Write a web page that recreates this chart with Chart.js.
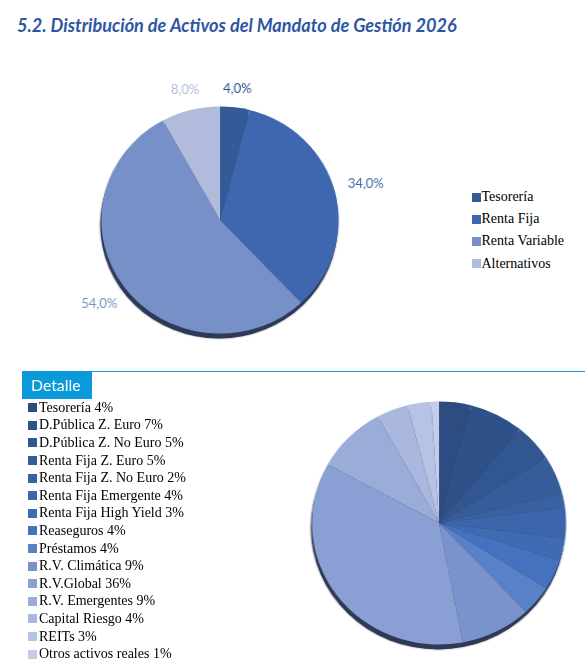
<!DOCTYPE html>
<html><head><meta charset="utf-8">
<script src="https://cdn.jsdelivr.net/npm/chart.js@4/dist/chart.umd.min.js"></script>
<style>
html,body{margin:0;padding:0;background:#fff;width:585px;height:663px;overflow:hidden;position:relative;}
#title{position:absolute;left:17px;top:15.4px;font:italic bold 18.1px Lato;color:#2F56A3;white-space:nowrap;line-height:1.2;}
.wrap{position:absolute;}
.legend{position:absolute;font-family:"Liberation Serif","Times New Roman",serif;font-size:14px;color:#000;}
.legend .row{display:flex;align-items:center;white-space:nowrap;}
.legend .box{width:9px;height:9px;flex:none;}
#mainLegend{left:471.5px;top:185.9px;}
#mainLegend .row{height:22.3px;line-height:22.3px;}
#mainLegend .box{margin-right:1px;}
#detailLegend{left:28px;top:398.9px;}
#detailLegend .row{height:17.6px;line-height:17.6px;}
#detailLegend .box{margin-right:2px;}
#rule{position:absolute;left:92px;top:371px;width:493px;height:1px;background:#1E8FD0;}
#detalle{position:absolute;left:22px;top:371px;width:70px;height:28px;background:#0A9ADA;}
#detalle span{position:absolute;left:9px;top:5px;font:15.8px Lato;color:#fff;line-height:1.2;}
</style></head><body>
<div id="title">5.2. Distribución de Activos del Mandato de Gestión 2026</div>
<div class="wrap" id="mainWrap"><canvas id="mainPie" width="340" height="340"></canvas></div>
<div class="legend" id="mainLegend"></div>
<div id="rule"></div>
<div id="detalle"><span>Detalle</span></div>
<div class="legend" id="detailLegend"></div>
<div class="wrap" id="detailWrap"><canvas id="detailPie" width="264" height="264"></canvas></div>
<script>
// ---- data ----
const mainCategories = ['Tesorería', 'Renta Fija', 'Renta Variable', 'Alternativos'];
const mainValues = [4, 34, 54, 8];
const mainColors = ['#345A97', '#3E67AF', '#7890C8', '#B1BBDC'];
const mainLabelColors = ['#2C4E8C', '#3E67AF', '#7890C8', '#B1BBDC'];

const detailCategories = ['Tesorería', 'D.Pública Z. Euro', 'D.Pública Z. No Euro', 'Renta Fija Z. Euro',
  'Renta Fija Z. No Euro', 'Renta Fija Emergente', 'Renta Fija High Yield', 'Reaseguros', 'Préstamos',
  'R.V. Climática', 'R.V.Global', 'R.V. Emergentes', 'Capital Riesgo', 'REITs', 'Otros activos reales'];
const detailValues = [4, 7, 5, 5, 2, 4, 3, 4, 4, 9, 36, 9, 4, 3, 1];
const detailColors = ['#2C4C82', '#2F5189', '#325690', '#365C99', '#3A62A3', '#3C66AB', '#3F6BB3', '#4472BE',
  '#5981C8', '#7A93CD', '#8A9FD3', '#9AACD8', '#AAB8DF', '#B7C3E4', '#C3CCE8'];

// ---- layout helpers ----
const SX = 1.045; // reference pies are slightly wider than tall
function place(wrapId, cx, cy, size) {
  const w = document.getElementById(wrapId);
  w.style.left = (cx - size / 2) + 'px';
  w.style.top = (cy - size / 2) + 'px';
  w.style.width = size + 'px';
  w.style.height = size + 'px';
  w.style.transformOrigin = (size / 2) + 'px ' + (size / 2) + 'px';
  w.style.transform = 'scaleX(' + SX + ')';
}
place('mainWrap', 219.5, 219.7, 340);
place('detailWrap', 438.7, 523.4, 264);

function buildLegend(id, cats, vals, colors, withVal) {
  const el = document.getElementById(id);
  cats.forEach((c, i) => {
    const r = document.createElement('div'); r.className = 'row';
    const b = document.createElement('div'); b.className = 'box'; b.style.background = colors[i];
    const t = document.createElement('span'); t.textContent = withVal ? (c + ' ' + vals[i] + '%') : c;
    r.appendChild(b); r.appendChild(t); el.appendChild(r);
  });
}
buildLegend('mainLegend', mainCategories, mainValues, mainColors, false);
buildLegend('detailLegend', detailCategories, detailValues, detailColors, true);

const pieShadow = {
  id: 'pieShadow',
  beforeDatasetsDraw(chart) {
    const a = chart.getDatasetMeta(0).data[0];
    if (!a) return;
    const ctx = chart.ctx;
    ctx.save();
    ctx.shadowColor = 'rgba(20,28,50,0.55)';
    ctx.shadowBlur = 2;
    ctx.fillStyle = '#2E3956';
    ctx.beginPath();
    ctx.arc(a.x - 1, a.y + 4.8, a.outerRadius, 0, Math.PI * 2);
    ctx.fill();
    ctx.restore();
  }
};

const outsideLabels = {
  id: 'outsideLabels',
  afterDatasetsDraw(chart) {
    const ctx = chart.ctx;
    const meta = chart.getDatasetMeta(0);
    const ds = chart.data.datasets[0];
    ctx.save();
    ctx.font = '12.5px Lato';
    ctx.textAlign = 'center';
    ctx.textBaseline = 'middle';
    meta.data.forEach((arc, i) => {
      const p = arc.getProps(['x', 'y', 'startAngle', 'endAngle', 'outerRadius'], true);
      const mid = (p.startAngle + p.endAngle) / 2;
      const txt = ds.data[i].toFixed(1).replace('.', ',') + '%';
      const w = ctx.measureText(txt).width, h = 9;
      const c = Math.cos(mid), s = Math.sin(mid);
      const d = p.outerRadius + 12.5 + Math.abs(c) * w / 2 + Math.abs(s) * h / 2;
      ctx.fillStyle = mainLabelColors[i];
      ctx.fillText(txt, p.x + c * d, p.y + s * d);
    });
    ctx.restore();
  }
};

const commonOpts = (pad) => ({
  responsive: false,
  animation: false,
  layout: { padding: pad },
  plugins: { legend: { display: false }, tooltip: { enabled: false } },
  events: []
});

new Chart(document.getElementById('mainPie'), {
  type: 'pie',
  data: { labels: mainCategories, datasets: [{ data: mainValues, backgroundColor: mainColors, borderWidth: 0 }] },
  options: commonOpts((340 - 2 * 113.6) / 2),
  plugins: [pieShadow, outsideLabels]
});

new Chart(document.getElementById('detailPie'), {
  type: 'pie',
  data: { labels: detailCategories, datasets: [{ data: detailValues, backgroundColor: detailColors, borderWidth: 0 }] },
  options: commonOpts((264 - 2 * 121.6) / 2),
  plugins: [pieShadow]
});
</script>
</body></html>
